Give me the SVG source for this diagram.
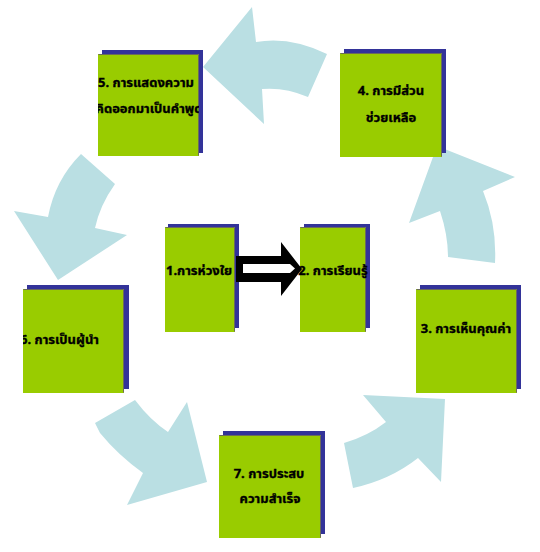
<svg xmlns="http://www.w3.org/2000/svg" width="540" height="552" viewBox="0 0 540 552">
<style>
.bg{fill:#ffffff}
.sh{fill:#333399}
.bx{fill:#99CC00}
.ed{fill:none;stroke:#6b6b5a;stroke-width:1}
.ar{fill:#BADFE3}
.t{font-family:"Noto Sans Thai","Noto Sans","DejaVu Sans",sans-serif;font-weight:bold;font-size:13px;fill:#000;stroke:#000;stroke-width:0.35;text-anchor:middle}
.tl{text-anchor:start}
</style>
<defs>
<clipPath id="c5"><rect x="98" y="54" width="101" height="102"/></clipPath>
<clipPath id="c6"><rect x="23" y="289" width="101" height="104"/></clipPath>
</defs>
<rect class="bg" x="0" y="0" width="540" height="552"/>
<g id="connectors">
<path id="a-top" class="ar" d="M203,67 L252,7 L256,42 Q290,36 327,54 L308,97 Q285,87 262,89 L264,124 Z"/>
<path id="a-left" class="ar" d="M81,154 L115,184 Q100,205 95,228 L127,235 L58,280 L14,211 L48,217 Q55,180 81,154 Z"/>
<path id="a-right" class="ar" d="M448,257 L495,263 Q497,225 483,191 L515,177 L437,146 L409,223 L440,211 Q448,235 448,257 Z"/>
<path id="a-br" class="ar" d="M363,395 L445,399 L441,482 L418,458 Q390,480 353,488 L344,443 Q368,436 386,422 Z"/>
<path id="a-bl" class="ar" d="M95,423 L135,400 Q150,420 168,432 L187,402 L207,482 L127,505 L143,473 Q118,455 100,433 Z"/>
</g>
<g id="n5">
<rect class="sh" x="102" y="50" width="101" height="103"/>
<rect class="bx" x="98" y="54" width="101" height="102"/>
<polyline class="ed" points="98.5,54.5 198.5,54.5 198.5,155.5"/>
<g clip-path="url(#c5)">
<text class="t" x="146" y="87">5. การแสดงความ</text>
<text class="t" x="149" y="113">คิดออกมาเป็นคำพูด</text>
</g>
</g>
<g id="n4">
<rect class="sh" x="344" y="49" width="102" height="104"/>
<rect class="bx" x="340" y="53" width="102" height="104"/>
<polyline class="ed" points="340.5,53.5 441.5,53.5 441.5,156.5"/>
<text class="t" x="391" y="95">4. การมีส่วน</text>
<text class="t" x="391" y="122">ช่วยเหลือ</text>
</g>
<g id="n6">
<rect class="sh" x="27" y="285" width="102" height="104"/>
<rect class="bx" x="23" y="289" width="101" height="104"/>
<polyline class="ed" points="23.5,289.5 123.5,289.5 123.5,392.5"/>
<g clip-path="url(#c6)">
<text class="t tl" x="20" y="344">6. การเป็นผู้นำ</text>
</g>
</g>
<g id="n3">
<rect class="sh" x="420" y="285" width="101" height="104"/>
<rect class="bx" x="416" y="289" width="101" height="104"/>
<polyline class="ed" points="416.5,289.5 516.5,289.5 516.5,392.5"/>
<text class="t" x="466" y="333">3. การเห็นคุณค่า</text>
</g>
<g id="n7">
<rect class="sh" x="223" y="431" width="102" height="103"/>
<rect class="bx" x="219" y="435" width="102" height="103"/>
<polyline class="ed" points="219.5,435.5 320.5,435.5 320.5,537.5"/>
<text class="t" x="269" y="478">7. การประสบ</text>
<text class="t" x="270" y="503">ความสำเร็จ</text>
</g>
<g id="n1">
<rect class="sh" x="168" y="224" width="71" height="104"/>
<rect class="bx" x="165" y="227" width="70" height="105"/>
<polyline class="ed" points="165.5,227.5 234.5,227.5 234.5,331.5"/>
<text class="t" x="199" y="275">1.การห่วงใย</text>
</g>
<g id="n2">
<rect class="sh" x="304" y="224" width="66" height="104"/>
<rect class="bx" x="300" y="227" width="66" height="105"/>
<polyline class="ed" points="300.5,227.5 365.5,227.5 365.5,331.5"/>
<text class="t" x="333" y="275">2. การเรียนรู้</text>
</g>
<g id="arrow-1-2">
<polygon fill="#000" points="236,256 281,256 281,242 302,269 281,296 281,282 236,282"/>
<polygon fill="#fff" points="243,264 290,264 295,268.5 290,273 243,273"/>
</g>
</svg>
